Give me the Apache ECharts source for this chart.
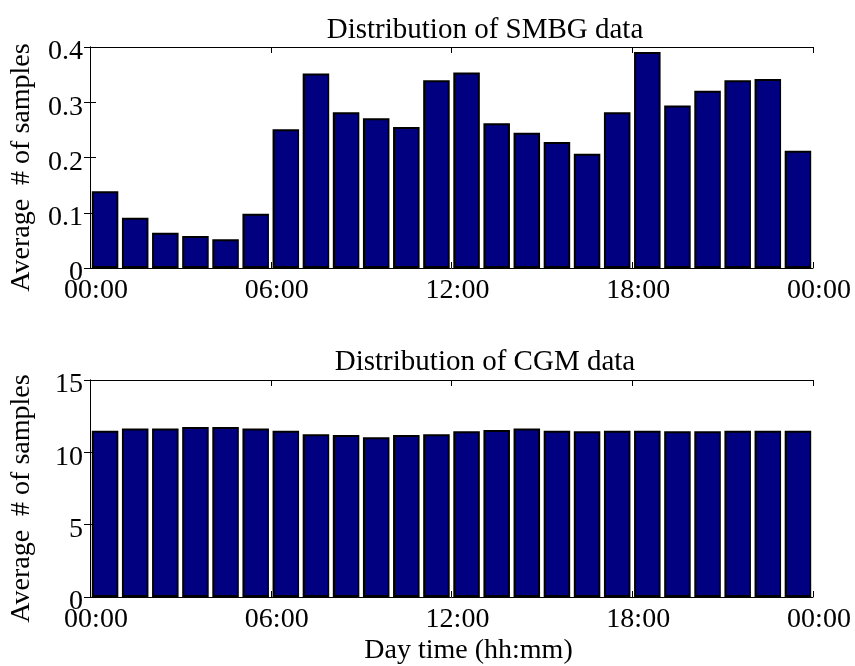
<!DOCTYPE html>
<html>
<head>
<meta charset="utf-8">
<script src="https://cdn.jsdelivr.net/npm/echarts@6/dist/echarts.min.js"></script>
<style>
  html, body { margin: 0; padding: 0; background: #fff; }
  #chart { width: 855px; height: 666px; }
</style>
</head>
<body>
<div id="chart"></div>
<script>
// Hourly bins over one day
const hourBins = ['00:00','01:00','02:00','03:00','04:00','05:00','06:00','07:00',
                  '08:00','09:00','10:00','11:00','12:00','13:00','14:00','15:00',
                  '16:00','17:00','18:00','19:00','20:00','21:00','22:00','23:00'];

// Average number of SMBG samples per hour
const smbgAvg = [0.139, 0.091, 0.064, 0.058, 0.052, 0.098, 0.251, 0.352,
                 0.282, 0.271, 0.255, 0.340, 0.354, 0.262, 0.245, 0.228,
                 0.207, 0.282, 0.391, 0.294, 0.321, 0.340, 0.342, 0.212];

// Average number of CGM samples per hour
const cgmAvg = [11.50, 11.65, 11.65, 11.75, 11.75, 11.65, 11.50, 11.25,
                11.20, 11.05, 11.20, 11.25, 11.45, 11.55, 11.65, 11.50,
                11.45, 11.50, 11.50, 11.45, 11.45, 11.50, 11.50, 11.50];

// Time-of-day tick labels (every 6 hours)
const timeTicks = ['00:00', '06:00', '12:00', '18:00', '00:00'];

const titles = ['Distribution of SMBG data', 'Distribution of CGM data'];
const yName = 'Average  # of samples';
const xName = 'Day time (hh:mm)';

const FONT = 'Liberation Serif';
const FS = 28;
const BLACK = '#000';

const grids = [
  { left: 89, right: 42, top: 47, height: 221 },
  { left: 89, right: 42, top: 380, height: 220 }
];

const yRanges = [
  { min: 0, max: 0.4, interval: 0.1 },
  { min: 0, max: 15, interval: 5 }
];

const boxLine = { show: true, lineStyle: { color: BLACK, width: 1 } };
const inTick = { show: true, inside: true, length: 6, lineStyle: { color: BLACK, width: 1 } };

const xAxes = [];
const yAxes = [];
grids.forEach((g, i) => {
  // category axis that places the hourly bars
  xAxes.push({ type: 'category', gridIndex: i, data: hourBins, show: false, boundaryGap: true });
  // bottom time axis with labels
  xAxes.push({
    type: 'value', gridIndex: i, position: 'bottom', min: 0, max: 24, interval: 6,
    axisLine: boxLine, axisTick: inTick, splitLine: { show: false },
    axisLabel: {
      show: true, color: BLACK, fontFamily: FONT, fontSize: FS, margin: 9,
      padding: [0, 0, 0, 12],
      formatter: v => timeTicks[Math.round(v / 6)]
    },
    name: i === 1 ? xName : '', nameLocation: 'middle', nameGap: 40,
    nameTextStyle: { color: BLACK, fontFamily: FONT, fontSize: FS, padding: [0, 0, 0, 34] }
  });
  // top edge of the box
  xAxes.push({
    type: 'value', gridIndex: i, position: 'top', min: 0, max: 24, interval: 6,
    axisLine: boxLine, axisTick: inTick, axisLabel: { show: false }, splitLine: { show: false }
  });
  // left value axis; labels sit slightly below their ticks
  yAxes.push({
    type: 'value', gridIndex: i, position: 'left',
    min: yRanges[i].min, max: yRanges[i].max, interval: yRanges[i].interval,
    axisLine: boxLine, axisTick: inTick, splitLine: { show: false },
    axisLabel: { color: BLACK, fontFamily: FONT, fontSize: FS, margin: 7,
                 verticalAlign: 'top', lineHeight: 10 },
    name: yName, nameLocation: 'middle', nameGap: 54, nameRotate: 90,
    nameTextStyle: { color: BLACK, fontFamily: FONT, fontSize: FS, padding: [0, 20, 0, 0] }
  });
  // right edge of the box
  yAxes.push({
    type: 'value', gridIndex: i, position: 'right',
    min: yRanges[i].min, max: yRanges[i].max, interval: yRanges[i].interval,
    axisLine: boxLine, axisTick: inTick, axisLabel: { show: false }, splitLine: { show: false }
  });
});

const barStyle = { color: '#000080', borderColor: '#000', borderWidth: 2 };

const option = {
  backgroundColor: '#fff',
  animation: false,
  title: [
    { text: titles[0], left: 480, top: 11, textAlign: 'center',
      textStyle: { color: BLACK, fontFamily: FONT, fontSize: 29, fontWeight: 'normal' } },
    { text: titles[1], left: 480, top: 343, textAlign: 'center',
      textStyle: { color: BLACK, fontFamily: FONT, fontSize: 29, fontWeight: 'normal' } }
  ],
  grid: grids,
  xAxis: xAxes,
  yAxis: yAxes,
  series: [
    { type: 'bar', name: 'SMBG', xAxisIndex: 0, yAxisIndex: 0, data: smbgAvg,
      barCategoryGap: '12%', itemStyle: barStyle },
    { type: 'bar', name: 'CGM', xAxisIndex: 3, yAxisIndex: 2, data: cgmAvg,
      barCategoryGap: '12%', itemStyle: barStyle }
  ]
};

const chart = echarts.init(document.getElementById('chart'), null, { renderer: 'canvas' });
chart.setOption(option);
</script>
</body>
</html>
